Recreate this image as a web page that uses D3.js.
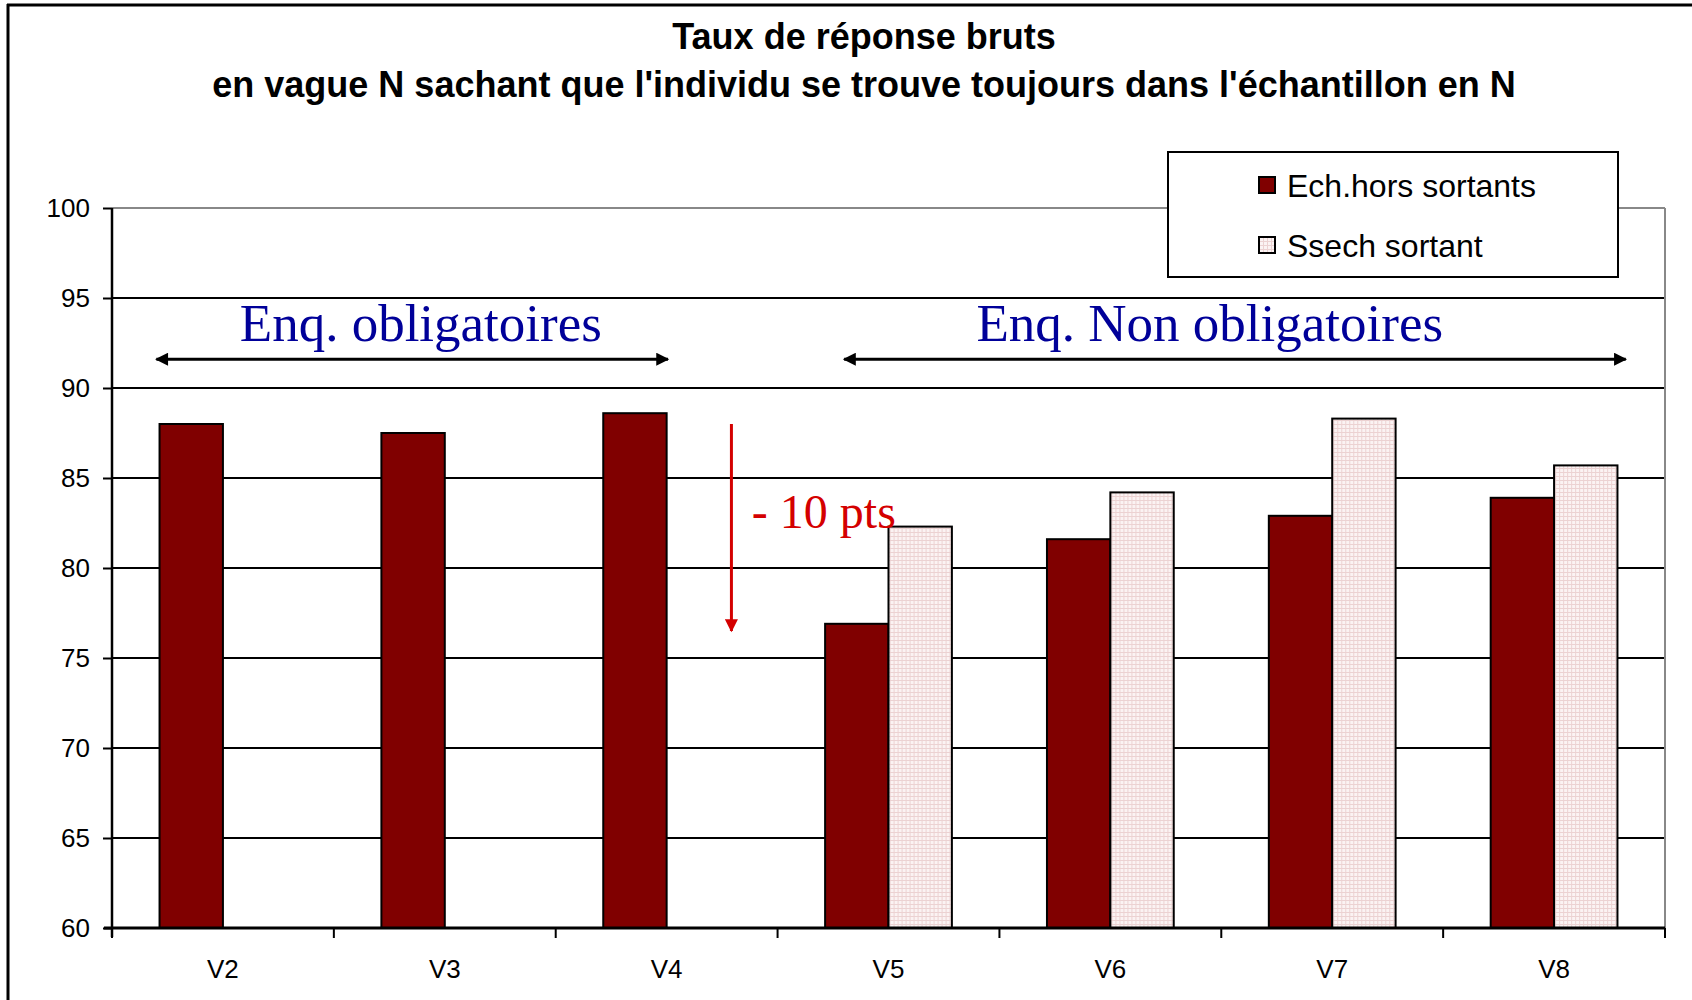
<!DOCTYPE html>
<html><head><meta charset="utf-8">
<script src="https://cdn.jsdelivr.net/npm/d3@7"></script>
<style>html,body{margin:0;padding:0;background:#fff;}svg{display:block;}</style>
</head><body>
<svg id="c" width="1692" height="1000"></svg>
<script>
const categories = ["V2","V3","V4","V5","V6","V7","V8"];
const seriesNames = ["Ech.hors sortants","Ssech sortant"];
const echHorsSortants = [88.0, 87.5, 88.6, 76.9, 81.6, 82.9, 83.9];
const ssechSortant = [null, null, null, 82.3, 84.2, 88.3, 85.7];
const yTicks = [60,65,70,75,80,85,90,95,100];
const titleLines = ["Taux de réponse bruts","en vague N sachant que l'individu se trouve toujours dans l'échantillon en N"];
// annotations: positions in category-index units and data values
const spanLabels = [
  {text:"Enq. obligatoires", cx:1.392, v:92.6, from:0.2, to:2.506, av:91.6},
  {text:"Enq. Non obligatoires", cx:4.948, v:92.6, from:3.3, to:6.823, av:91.6}
];
const dropNote = {text:"- 10 pts", ax:2.792, from:88.0, to:76.5, tx:2.884, tv:82.2};

const svg = d3.select("#c");
const L=112, R=1665, T=208, B=928;
const x0 = d3.scaleBand().domain(categories).range([L,R]).padding(0);
const x1 = d3.scaleBand().domain(seriesNames).range([0,x0.bandwidth()]).paddingInner(0).paddingOuter(0.75);
const y = d3.scaleLinear().domain([60,100]).range([B,T]);
const xi = i => L + i*x0.step();
const colors = {"Ech.hors sortants":"#800000","Ssech sortant":"url(#dots)"};

const defs = svg.append("defs");
const pat = defs.append("pattern").attr("id","dots").attr("patternUnits","userSpaceOnUse").attr("width",4).attr("height",4);
pat.append("rect").attr("width",4).attr("height",4).attr("fill","#fbf3f3");
pat.append("rect").attr("x",0).attr("y",0).attr("width",4).attr("height",1).attr("fill","#ecd2d2");
pat.append("rect").attr("x",0).attr("y",0).attr("width",1).attr("height",4).attr("fill","#ecd2d2");
const arrowDefs = [["arrB","#000"],["arrR","#d40000"]];
arrowDefs.forEach(([id,c])=>{
  defs.append("marker").attr("id",id).attr("viewBox","0 0 10 10").attr("refX",9).attr("refY",5)
    .attr("markerUnits","userSpaceOnUse").attr("markerWidth",17).attr("markerHeight",13).attr("orient","auto-start-reverse")
    .append("path").attr("d","M0,0 L10,5 L0,10 Z").attr("fill",c);
});

// frame
svg.append("line").attr("x1",7).attr("x2",1692).attr("y1",5).attr("y2",5).attr("stroke","#000").attr("stroke-width",3);
svg.append("line").attr("x1",8).attr("x2",8).attr("y1",4).attr("y2",1000).attr("stroke","#000").attr("stroke-width",3);

// title
svg.append("g").selectAll("text").data(titleLines).join("text")
  .attr("x",864).attr("y",(d,i)=>[49,97][i]).attr("text-anchor","middle")
  .attr("font-family","Liberation Sans, Arial, sans-serif").attr("font-weight","bold").attr("font-size",36)
  .attr("fill","#000").text(d=>d);

// gridlines
svg.append("g").selectAll("line").data(yTicks.filter(t=>t>60)).join("line")
  .attr("x1",L).attr("x2",R).attr("y1",d=>y(d)).attr("y2",d=>y(d))
  .attr("stroke",d=>d===100?"#888":"#000").attr("stroke-width",2);
svg.append("line").attr("x1",R).attr("x2",R).attr("y1",T).attr("y2",B).attr("stroke","#888").attr("stroke-width",2);

// bars
const rows = categories.map((c,i)=>({cat:c, vals:[echHorsSortants[i], ssechSortant[i]]}));
const g = svg.append("g").selectAll("g").data(rows).join("g").attr("transform",d=>`translate(${x0(d.cat)},0)`);
g.selectAll("rect").data(d=>d.vals.map((v,j)=>({s:seriesNames[j],v})).filter(e=>e.v!=null)).join("rect")
  .attr("x",d=>x1(d.s)).attr("width",x1.bandwidth()).attr("y",d=>y(d.v)).attr("height",d=>B-y(d.v))
  .attr("fill",d=>colors[d.s]).attr("stroke","#000").attr("stroke-width",2);

// y axis
const ya = svg.append("g").attr("transform",`translate(${L},0)`)
  .call(d3.axisLeft(y).tickValues(yTicks).tickSize(9).tickPadding(13));
ya.select(".domain").attr("stroke","#000").attr("stroke-width",2.5).attr("d",`M0,${T}V${B+9}`);
ya.selectAll(".tick line").attr("stroke","#000").attr("stroke-width",2);
ya.selectAll(".tick text").attr("font-family","Liberation Sans, Arial, sans-serif").attr("font-size",26).attr("fill","#000");

// x axis
const xa = svg.append("g").attr("transform",`translate(0,${B})`)
  .call(d3.axisBottom(x0).tickSize(0).tickPadding(42));
xa.select(".domain").attr("stroke","#000").attr("stroke-width",3).attr("d",`M${L-8},0H${R}`);
xa.selectAll(".tick text").attr("font-family","Liberation Sans, Arial, sans-serif").attr("font-size",26).attr("fill","#000").attr("dy","0.3em");
xa.append("g").selectAll("line").data(d3.range(categories.length+1)).join("line")
  .attr("x1",d=>xi(d)).attr("x2",d=>xi(d)).attr("y1",0).attr("y2",10).attr("stroke","#000").attr("stroke-width",2);

// span annotations
const sg = svg.append("g");
sg.selectAll("text").data(spanLabels).join("text")
  .attr("x",d=>xi(d.cx)).attr("y",d=>y(d.v)).attr("text-anchor","middle")
  .attr("font-family","Liberation Serif, Times New Roman, serif").attr("font-size",53).attr("fill","#000099").text(d=>d.text);
sg.selectAll("line").data(spanLabels).join("line")
  .attr("x1",d=>xi(d.from)).attr("x2",d=>xi(d.to)).attr("y1",d=>y(d.av)).attr("y2",d=>y(d.av))
  .attr("stroke","#000").attr("stroke-width",3).attr("marker-start","url(#arrB)").attr("marker-end","url(#arrB)");

// drop annotation
svg.append("line").attr("x1",xi(dropNote.ax)).attr("x2",xi(dropNote.ax)).attr("y1",y(dropNote.from)).attr("y2",y(dropNote.to))
  .attr("stroke","#d40000").attr("stroke-width",3).attr("marker-end","url(#arrR)");
svg.append("text").attr("x",xi(dropNote.tx)).attr("y",y(dropNote.tv))
  .attr("font-family","Liberation Serif, Times New Roman, serif").attr("font-size",48).attr("fill","#d40000").text(dropNote.text);

// legend
const lg = svg.append("g");
lg.append("rect").attr("x",1168).attr("y",152).attr("width",450).attr("height",125).attr("fill","#fff").attr("stroke","#000").attr("stroke-width",2);
const li = lg.selectAll("g").data(seriesNames).join("g").attr("transform",(d,i)=>`translate(1259,${[185,245][i]})`);
li.append("rect").attr("x",0).attr("y",-8).attr("width",16).attr("height",16).attr("fill",d=>colors[d]).attr("stroke","#000").attr("stroke-width",2);
li.append("text").attr("x",28).attr("y",12).attr("font-family","Liberation Sans, Arial, sans-serif").attr("font-size",32).attr("fill","#000").text(d=>d);
</script>
</body></html>
